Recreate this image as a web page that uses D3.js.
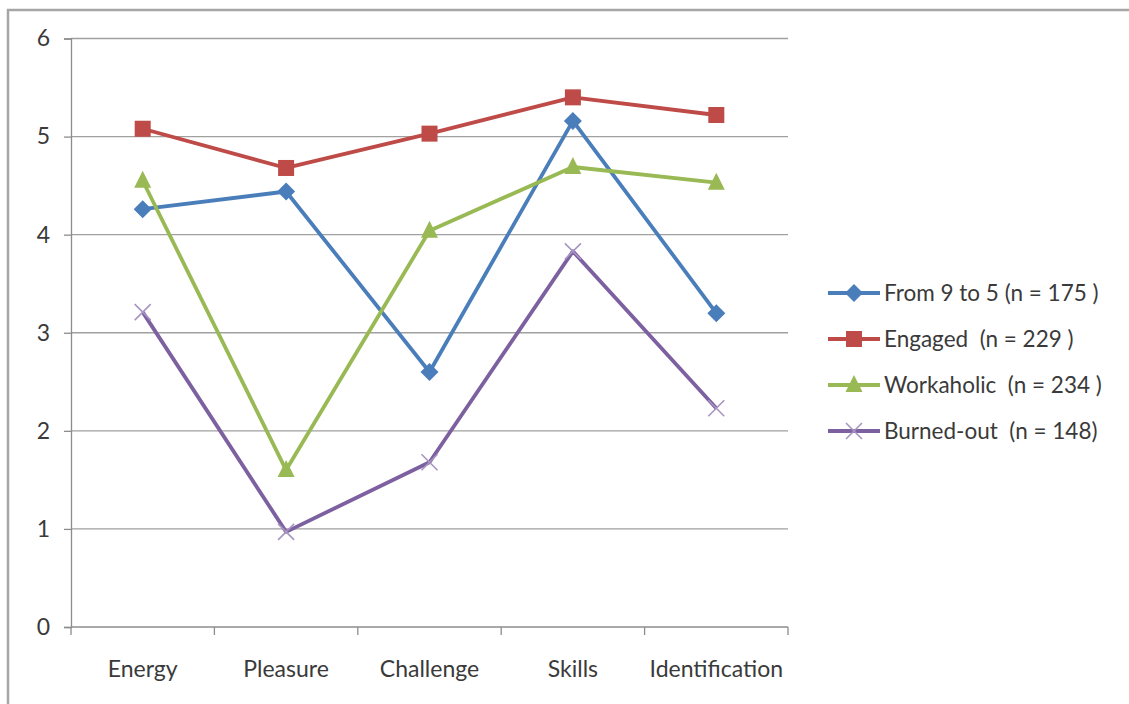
<!DOCTYPE html>
<html>
<head>
<meta charset="utf-8">
<script src="https://cdn.jsdelivr.net/npm/d3@7"></script>
<style>
  html, body { margin: 0; padding: 0; background: #fff; }
  svg { display: block; }
  text { font-family: Lato, "Open Sans", sans-serif; fill: #3a3a3a; }
</style>
</head>
<body>
<svg id="chart" width="1129" height="704"></svg>
<script>
// Profile dimensions on the x axis
const categories = ["Energy", "Pleasure", "Challenge", "Skills", "Identification"];

// Mean scores per group
const from9to5   = [4.26, 4.44, 2.60, 5.16, 3.20];
const engaged    = [5.08, 4.68, 5.03, 5.40, 5.22];
const workaholic = [4.55, 1.60, 4.04, 4.69, 4.53];
const burnedOut  = [3.21, 0.97, 1.68, 3.83, 2.23];

const seriesNames = ["From 9 to 5 (n = 175 )", "Engaged  (n = 229 )", "Workaholic  (n = 234 )", "Burned-out  (n = 148)"];
const yTicks = [0, 1, 2, 3, 4, 5, 6];

const series = [
  { name: seriesNames[0], values: from9to5,   color: "#4a7ebb", marker: "diamond" },
  { name: seriesNames[1], values: engaged,    color: "#be4b48", marker: "square" },
  { name: seriesNames[2], values: workaholic, color: "#98b954", marker: "triangle" },
  { name: seriesNames[3], values: burnedOut,  color: "#7d60a0", marker: "cross" }
];

const svg = d3.select("#chart");

// outer chart frame
svg.append("rect")
  .attr("x", 8).attr("y", 10)
  .attr("width", 1140).attr("height", 720)
  .attr("fill", "none").attr("stroke", "#a6a6a6").attr("stroke-width", 2.5);

const plot = { left: 71, right: 788, top: 38.5, bottom: 627 };

const x = d3.scaleBand().domain(categories).range([plot.left, plot.right]);
const y = d3.scaleLinear().domain([0, 6]).range([plot.bottom, plot.top]);
const cx = c => x(c) + x.bandwidth() / 2;

// horizontal gridlines
svg.append("g")
  .selectAll("line")
  .data(yTicks.filter(t => t > 0))
  .join("line")
  .attr("x1", plot.left).attr("x2", plot.right)
  .attr("y1", d => y(d)).attr("y2", d => y(d))
  .attr("stroke", "#a0a0a0").attr("stroke-width", 1.3);

// y axis
const yAxis = svg.append("g")
  .attr("transform", `translate(${plot.left},0)`)
  .call(d3.axisLeft(y).tickValues(yTicks).tickSize(7).tickPadding(14).tickFormat(d3.format("d")));
yAxis.select(".domain").attr("stroke", "#8c8c8c").attr("stroke-width", 1.3);
yAxis.selectAll(".tick line").attr("stroke", "#8c8c8c").attr("stroke-width", 1.3);
yAxis.selectAll(".tick text")
  .attr("font-size", 23).attr("fill", "#3a3a3a")
  .style("font-family", "Lato, 'Open Sans', sans-serif");

// x axis with tick marks at category boundaries
const xAxisG = svg.append("g").attr("transform", `translate(0,${plot.bottom})`);
xAxisG.append("line")
  .attr("x1", plot.left).attr("x2", plot.right)
  .attr("stroke", "#8c8c8c").attr("stroke-width", 1.3);
const boundaries = categories.map(c => x(c)).concat([x(categories[categories.length - 1]) + x.bandwidth()]);
xAxisG.selectAll("line.tk")
  .data(boundaries)
  .join("line").attr("class", "tk")
  .attr("x1", d => d).attr("x2", d => d)
  .attr("y1", 0).attr("y2", 8)
  .attr("stroke", "#8c8c8c").attr("stroke-width", 1.3);
xAxisG.selectAll("text")
  .data(categories)
  .join("text")
  .attr("x", d => cx(d)).attr("y", 50)
  .attr("text-anchor", "middle")
  .attr("font-size", 23)
  .text(d => d);

// marker drawing helper
function drawMarker(g, type, color, px, py) {
  if (type === "diamond") {
    g.append("path")
      .attr("d", `M${px},${py - 9}L${px + 9},${py}L${px},${py + 9}L${px - 9},${py}Z`)
      .attr("fill", color);
  } else if (type === "square") {
    g.append("rect")
      .attr("x", px - 8).attr("y", py - 8)
      .attr("width", 16).attr("height", 16)
      .attr("fill", color);
  } else if (type === "triangle") {
    g.append("path")
      .attr("d", `M${px},${py - 10}L${px + 8.5},${py + 7}L${px - 8.5},${py + 7}Z`)
      .attr("fill", color);
  } else {
    g.append("path")
      .attr("d", `M${px - 8},${py - 8}L${px + 8},${py + 8}M${px + 8},${py - 8}L${px - 8},${py + 8}`)
      .attr("stroke", "#a795c2").attr("stroke-width", 1.6).attr("fill", "none");
  }
}

const line = d3.line().x((d, i) => cx(categories[i])).y(d => y(d));

series.forEach(s => {
  const g = svg.append("g");
  g.append("path")
    .datum(s.values)
    .attr("d", line)
    .attr("fill", "none")
    .attr("stroke", s.color)
    .attr("stroke-width", 3.8)
    .attr("stroke-linejoin", "round");
  s.values.forEach((v, i) => drawMarker(g, s.marker, s.color, cx(categories[i]), y(v)));
});

// legend
const legend = svg.append("g");
const legendY = d3.scalePoint().domain(seriesNames).range([293, 431]);
series.forEach(s => {
  const ly = legendY(s.name);
  const g = legend.append("g");
  g.append("line")
    .attr("x1", 828).attr("x2", 880)
    .attr("y1", ly).attr("y2", ly)
    .attr("stroke", s.color).attr("stroke-width", 3.8);
  drawMarker(g, s.marker, s.color, 854, ly);
  g.append("text")
    .attr("x", 884).attr("y", ly + 8)
    .attr("font-size", 22.5)
    .style("white-space", "pre")
    .text(s.name);
});
</script>
</body>
</html>
